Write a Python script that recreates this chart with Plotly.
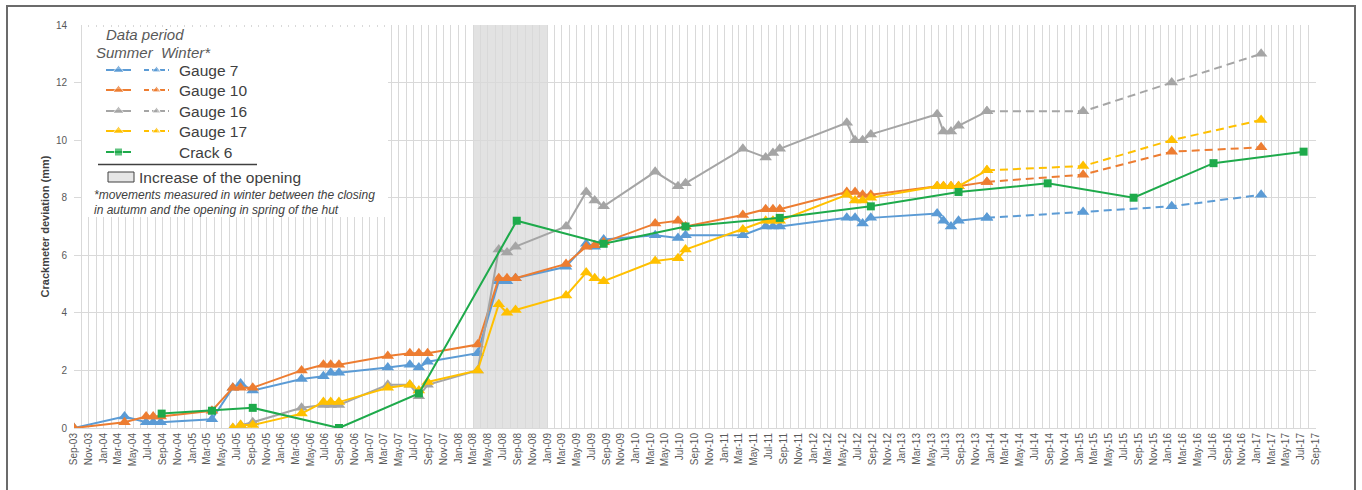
import plotly.graph_objects as go

# ---- survey campaigns (summer readings) ----
summer_dates = [
    "2003-09-01", "2004-03-27", "2004-06-24", "2004-07-23", "2004-08-23",
    "2005-03-22", "2005-06-16", "2005-07-18", "2005-09-06",
    "2006-03-26", "2006-06-24", "2006-07-24", "2006-08-27",
    "2007-03-16", "2007-06-15", "2007-07-22", "2007-08-27",
    "2008-03-20", "2008-06-15", "2008-07-19", "2008-08-23",
    "2009-03-19", "2009-06-10", "2009-07-15", "2009-08-21",
    "2010-03-21", "2010-06-23", "2010-07-24",
    "2011-03-17", "2011-06-19", "2011-07-19", "2011-08-16",
    "2012-05-18", "2012-06-21", "2012-07-22", "2012-08-25",
    "2013-05-25", "2013-06-20", "2013-07-21", "2013-08-21",
    "2013-12-16",
]
late_dates = summer_dates[6:]  # gauges 16 and 17 installed in June 2005

gauge7 = [0, 0.4, 0.2, 0.2, 0.2, 0.3, 1.4, 1.55, 1.3, 1.7, 1.8, 1.92, 1.92,
          2.1, 2.2, 2.1, 2.3, 2.6, 5.1, 5.1, 5.2, 5.6, 6.4, 6.3, 6.55,
          6.7, 6.6, 6.7, 6.7, 7.0, 7.0, 7.0, 7.3, 7.3, 7.1, 7.3,
          7.45, 7.2, 7.0, 7.2, 7.3]
gauge10 = [0, 0.2, 0.4, 0.4, 0.4, 0.6, 1.4, 1.4, 1.4, 2.0, 2.2, 2.2, 2.2,
           2.5, 2.6, 2.6, 2.6, 2.9, 5.2, 5.2, 5.2, 5.7, 6.3, 6.35, 6.45,
           7.1, 7.2, 7.0, 7.4, 7.6, 7.6, 7.6, 8.2, 8.2, 8.1, 8.1,
           8.4, 8.4, 8.4, 8.4, 8.55]
gauge16 = [0, 0.1, 0.2, 0.7, 0.8, 0.8, 0.8, 1.5, 1.5, 1.1, 1.5, 2.0,
           6.2, 6.1, 6.3, 7.0, 8.2, 7.9, 7.7, 8.9, 8.4, 8.5,
           9.7, 9.4, 9.55, 9.7, 10.6, 10.0, 10.0, 10.2,
           10.9, 10.3, 10.3, 10.5, 11.0]
gauge17 = [0, 0.1, 0.1, 0.5, 0.9, 0.9, 0.9, 1.4, 1.5, 1.3, 1.6, 2.0,
           4.3, 4.0, 4.1, 4.6, 5.4, 5.2, 5.1, 5.8, 5.9, 6.2,
           6.9, 7.2, 7.2, 7.2, 8.1, 7.9, 7.9, 8.0,
           8.4, 8.4, 8.4, 8.4, 8.95]

# ---- winter readings (hut closed between autumn and spring) ----
winter_dates = ["2013-12-16", "2015-01-16", "2016-01-16", "2017-01-18"]
gauge7_w = [7.3, 7.5, 7.7, 8.1]
gauge10_w = [8.55, 8.8, 9.6, 9.75]
gauge16_w = [11.0, 11.0, 12.0, 13.0]
gauge17_w = [8.95, 9.1, 10.0, 10.7]

# ---- crack 6 ----
crack_dates = ["2004-08-27", "2005-03-22", "2005-09-06", "2006-08-27", "2007-07-22",
               "2008-08-28", "2009-08-21", "2010-07-24", "2011-08-16", "2012-08-25",
               "2013-08-21", "2014-08-23", "2015-08-12", "2016-07-06", "2017-07-12"]
crack6 = [0.5, 0.6, 0.7, 0.0, 1.2, 7.2, 6.4, 7.0, 7.3, 7.7, 8.2, 8.5, 8.0, 9.2, 9.6]

opening_period = ["2008-03-01", "2009-01-01"]

BLUE, ORANGE, GREY, YELLOW, GREEN = "#5B9BD5", "#ED7D31", "#A5A5A5", "#FFC000", "#1EAA4B"
FONT = "Liberation Sans, Arial, sans-serif"
DASH = "8px,5px"

fig = go.Figure()

def gauge(x, y, color, dash="solid"):
    fig.add_trace(go.Scatter(
        x=x, y=y, mode="lines+markers", showlegend=False, hoverinfo="x+y",
        line=dict(color=color, width=2, dash=dash),
        marker=dict(symbol="triangle-up", size=11, color=color)))

gauge(summer_dates, gauge7, BLUE)
gauge(summer_dates, gauge10, ORANGE)
gauge(late_dates, gauge16, GREY)
gauge(late_dates, gauge17, YELLOW)
gauge(winter_dates, gauge7_w, BLUE, DASH)
gauge(winter_dates, gauge10_w, ORANGE, DASH)
gauge(winter_dates, gauge16_w, GREY, DASH)
gauge(winter_dates, gauge17_w, YELLOW, DASH)
fig.add_trace(go.Scatter(
    x=crack_dates, y=crack6, mode="lines+markers", showlegend=False,
    line=dict(color=GREEN, width=2),
    marker=dict(symbol="square", size=8, color=GREEN)))

# shaded period of increased opening
fig.add_shape(type="rect", xref="x", yref="y", x0=opening_period[0], x1=opening_period[1],
              y0=0, y1=14, fillcolor="#E2E2E2", line_width=0, layer="below")

# ---- plot-area geometry (pixels) used for the legend block and frame ----
W, H = 1362, 490
L, R, T, B = 74, 46, 25, 62
PW, PH = W - L - R, H - T - B

def px(p):
    return (p - L) / PW

def py(p):
    return (H - B - p) / PH

# legend block, drawn on an overlay axis measured in pixels
fig.add_trace(go.Scatter(
    x=[82, 388, 388, 82, 82], y=[27, 27, 217, 217, 27], xaxis="x2", yaxis="y2",
    mode="lines", fill="toself", fillcolor="white", line=dict(width=0, color="white"),
    showlegend=False, hoverinfo="skip"))

def legend_sample(x0, x1, yy, color, symbol, size, dash="solid"):
    xm = (x0 + x1) / 2
    fig.add_trace(go.Scatter(
        x=[x0, xm, x1], y=[yy, yy, yy], xaxis="x2", yaxis="y2",
        mode="lines+markers", showlegend=False, hoverinfo="skip",
        line=dict(color=color, width=2, dash=dash),
        marker=dict(symbol=symbol, size=[0, size, 0], color=color)))

rows = [("Gauge 7", BLUE, True), ("Gauge 10", ORANGE, True), ("Gauge 16", GREY, True),
        ("Gauge 17", YELLOW, True), ("Crack 6", GREEN, False)]
row_y = [70, 90, 111, 131, 152]
for (label, color, has_winter), yy in zip(rows, row_y):
    if has_winter:
        legend_sample(106, 131, yy, color, "triangle-up", 10)
        legend_sample(144, 169, yy, color, "triangle-up", 8, "5px,3px")
    else:
        legend_sample(106, 131, yy, color, "square", 8)
    fig.add_annotation(x=177, y=yy, xref="x2", yref="y2", text=label, showarrow=False,
                       xanchor="left", yanchor="middle",
                       font=dict(family=FONT, size=15.5, color="#404040"))

fig.add_annotation(x=104, y=34, xref="x2", yref="y2", text="<i>Data period</i>",
                   showarrow=False, xanchor="left", yanchor="middle",
                   font=dict(family=FONT, size=15, color="#595959"))
fig.add_annotation(x=94, y=52, xref="x2", yref="y2", text="<i>Summer  Winter*</i>",
                   showarrow=False, xanchor="left", yanchor="middle",
                   font=dict(family=FONT, size=15, color="#595959"))
fig.add_shape(type="line", xref="x2", yref="y2", x0=98, x1=257, y0=164.5, y1=164.5,
              line=dict(color="#404040", width=1.5), layer="above")
fig.add_shape(type="rect", xref="x2", yref="y2", x0=108, x1=134, y0=172, y1=182,
              fillcolor="#E6E6E6", line=dict(color="#404040", width=1), layer="above")
fig.add_annotation(x=137, y=177, xref="x2", yref="y2", text="Increase of the opening",
                   showarrow=False, xanchor="left", yanchor="middle",
                   font=dict(family=FONT, size=15.5, color="#404040"))
fig.add_annotation(x=92, y=195, xref="x2", yref="y2",
                   text="<i>*movements measured in winter between the closing</i>",
                   showarrow=False, xanchor="left", yanchor="middle",
                   font=dict(family=FONT, size=12, color="#404040"))
fig.add_annotation(x=92, y=210, xref="x2", yref="y2",
                   text="<i>in autumn and the opening in spring of the hut</i>",
                   showarrow=False, xanchor="left", yanchor="middle",
                   font=dict(family=FONT, size=12, color="#404040"))

# outer frame
fig.add_shape(type="rect", xref="paper", yref="paper",
              x0=px(7), x1=px(1355), y0=py(520), y1=py(6),
              line=dict(color="#6B6B6B", width=2), fillcolor="rgba(0,0,0,0)", layer="above")

fig.update_layout(
    width=W, height=H,
    margin=dict(l=L, r=R, t=T, b=B),
    paper_bgcolor="white", plot_bgcolor="white",
    showlegend=False,
    font=dict(family=FONT, color="#595959"),
    xaxis=dict(
        type="date", range=["2003-09-01", "2017-09-01"],
        tick0="2003-09-01", dtick="M2", tickformat="%b-%y", tickangle=-90,
        tickfont=dict(size=10, color="#595959"),
        showgrid=True, gridcolor="#D9D9D9", gridwidth=1,
        minor=dict(dtick="M1", tick0="2003-09-01", showgrid=True,
                   gridcolor="#D9D9D9", gridwidth=1),
        showline=True, linecolor="#D9D9D9", linewidth=1,
        ticks="", zeroline=False, fixedrange=True,
    ),
    yaxis=dict(
        range=[0, 14], dtick=2, tick0=0,
        tickfont=dict(size=10, color="#595959"),
        showgrid=True, gridcolor="#D9D9D9", gridwidth=1,
        zeroline=False, ticks="", ticklabelstandoff=6,
        title=dict(text="<b>Crackmeter deviation (mm)</b>",
                   font=dict(size=11, color="#404040"), standoff=4),
        fixedrange=True,
    ),
    xaxis2=dict(overlaying="x", range=[L, W - R], visible=False, fixedrange=True),
    yaxis2=dict(overlaying="y", range=[H - B, T], visible=False, fixedrange=True),
)

fig.write_html("out.html")
